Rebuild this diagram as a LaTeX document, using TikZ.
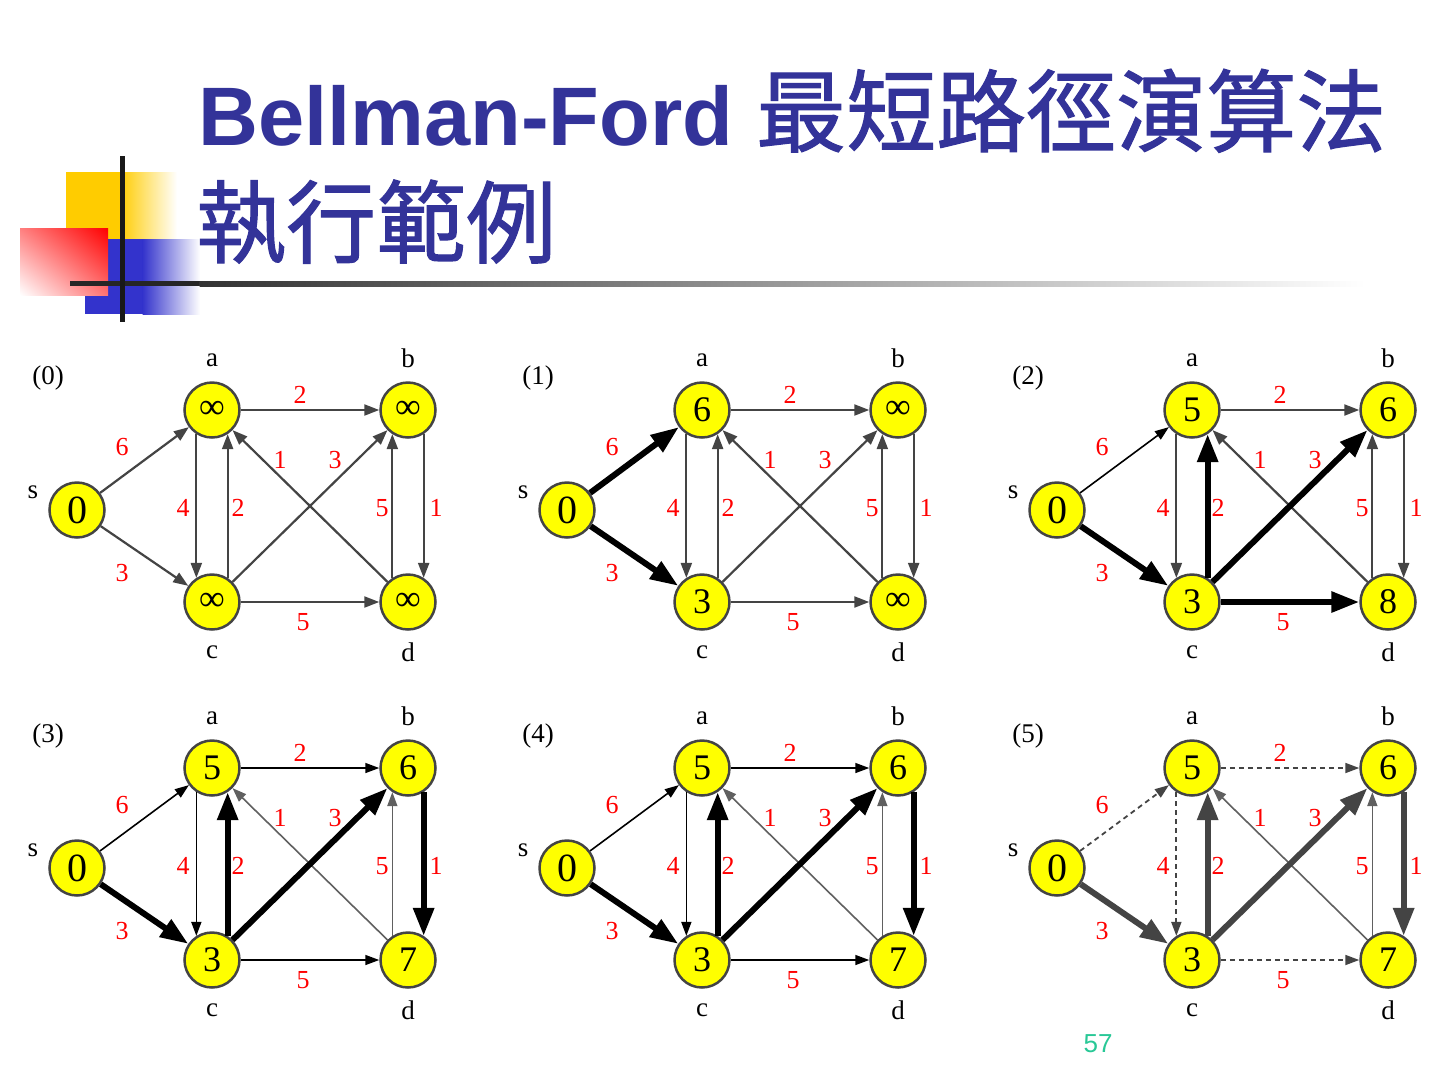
\documentclass[tikz,border=0pt]{standalone}
\usepackage{fontspec}
\setmainfont{Liberation Serif}
\newfontfamily\titlelat{Liberation Sans}
\newfontfamily\pgfont{Liberation Sans}
\newfontfamily\cjk{Noto Sans CJK TC}[FakeBold=1.2]
\usetikzlibrary{arrows.meta,shadings}
\definecolor{gr}{RGB}{68,68,68}
\definecolor{titleblue}{RGB}{51,51,153}
\definecolor{pgnum}{RGB}{40,200,150}
\definecolor{vfill}{RGB}{255,255,0}
\definecolor{logoyel}{RGB}{255,204,0}
\definecolor{logoblue}{RGB}{51,51,204}
\definecolor{logored}{RGB}{255,0,0}
\newcommand\inft{∞}
\tikzset{
 vtx/.style={circle, draw=gr, line width=2.5pt, fill=vfill, minimum size=55pt, inner sep=0pt, font=\fontsize{36}{36}\selectfont},
 svtx/.style={vtx, font=\fontsize{40}{40}\selectfont},
 lbl/.style={font=\fontsize{27}{27}\selectfont, inner sep=0pt},
 wt/.style={font=\fontsize{26}{26}\selectfont, text=red, inner sep=0pt},
 gedge/.style={draw=gr, line width=2.2pt, -{Triangle[length=15pt,width=11pt]}},
 thk/.style={draw=black, line width=6pt, -{Triangle[length=28pt,width=20pt]}},
 thn/.style={draw=black, line width=1.6pt, -{Triangle[length=14pt,width=10pt]}},
 thng/.style={draw=gr!85!white, line width=1.6pt, -{Triangle[length=14pt,width=10pt]}},
 dsh/.style={draw=gr, line width=1.8pt, dash pattern=on 5pt off 4pt, -{Triangle[length=14pt,width=10pt]}},
 thkg/.style={draw=gr, line width=6pt, -{Triangle[length=28pt,width=20pt]}},
 esa/.style={gedge}, esc/.style={gedge}, eab/.style={gedge}, eac/.style={gedge}, eca/.style={gedge},
 eda/.style={gedge}, ecb/.style={gedge}, edb/.style={gedge}, ebd/.style={gedge}, ecd/.style={gedge}
}
\newcommand\bfgraph[6]{%
 \node[lbl] (ln) at (48,378) {(#1)};
 \node[svtx] (s) at (77,510) {#2};
 \node[vtx] (a) at (212,410) {#3};
 \node[vtx] (b) at (408,410) {#4};
 \node[vtx] (c) at (212,602) {#5};
 \node[vtx] (d) at (408,602) {#6};
 \node[lbl] (ls) at (33,492) {s};
 \node[lbl] (la) at (212,360) {a};
 \node[lbl] (lb) at (408,358) {b};
 \node[lbl] (lc) at (212,652) {c};
 \node[lbl] (ld) at (408,652) {d};
 \draw[esa] (s) -- (a);
 \draw[esc] (s) -- (c);
 \draw[eab] (a) -- (b);
 \draw[eac] (a.-123) -- (c.123);
 \draw[eca] (c.57) -- (a.-57);
 \draw[eda] (d) -- (a);
 \draw[ecb] (c) -- (b);
 \draw[edb] (d.123) -- (b.-123);
 \draw[ebd] (b.-57) -- (d.57);
 \draw[ecd] (c) -- (d);
 \node[wt] (w1) at (122,447) {6};
 \node[wt] (w2) at (122,573) {3};
 \node[wt] (w3) at (300,395) {2};
 \node[wt] (w4) at (183,508) {4};
 \node[wt] (w5) at (238,508) {2};
 \node[wt] (w6) at (280,460) {1};
 \node[wt] (w7) at (335,460) {3};
 \node[wt] (w8) at (382,508) {5};
 \node[wt] (w9) at (436,508) {1};
 \node[wt] (w10) at (303,622) {5};
}
\begin{document}
\begin{tikzpicture}[x=1pt,y=-1pt]
\useasboundingbox (0,0) rectangle (1440,1080);
\fill[white] (0,0) rectangle (1440,1080);
% logo
\fill[logoyel] (66,172) rectangle (120,239);
\shade[left color=logoyel, right color=white] (119.5,172) rectangle (177,239);
\fill[logoblue] (85,239) rectangle (143,314);
\shade[left color=logoblue, right color=white] (142.5,239) rectangle (200,314);
\shade[upper left=logored!50!white, upper right=logored, lower left=white, lower right=logored!55!white] (20,228) rectangle (108,295);
\fill[black!85] (70,281) rectangle (200,286);
\shade[left color=black!80, right color=white] (199.5,281) rectangle (1365,286);
\fill[black!90] (120,156) rectangle (125,322);
% title
\node[anchor=base west, inner sep=0pt, text=titleblue] (t1) at (198,145) {{\titlelat\bfseries\fontsize{83}{90}\selectfont Bellman-Ford\ }{\cjk\mdseries\fontsize{90}{90}\selectfont 最短路徑演算法}};
\node[anchor=base west, inner sep=0pt, text=titleblue] (t2) at (196,256) {\cjk\mdseries\fontsize{90}{90}\selectfont 執行範例};
% panels
\begin{scope}[name prefix=p0-]
 \bfgraph{0}{0}{\inft}{\inft}{\inft}{\inft}
\end{scope}
\begin{scope}[shift={(490,0)}, name prefix=p1-, esa/.style={thk}, esc/.style={thk}]
 \bfgraph{1}{0}{6}{\inft}{3}{\inft}
\end{scope}
\begin{scope}[shift={(980,0)}, name prefix=p2-, esa/.style={thn}, esc/.style={thk}, eca/.style={thk}, ecb/.style={thk}, ecd/.style={thk}]
 \bfgraph{2}{0}{5}{6}{3}{8}
\end{scope}
\begin{scope}[shift={(0,358)}, name prefix=p3-, esa/.style={thn}, eab/.style={thn}, eac/.style={thn}, ecd/.style={thn}, esc/.style={thk}, eca/.style={thk}, ecb/.style={thk}, ebd/.style={thk}, eda/.style={thng}, edb/.style={thng}]
 \bfgraph{3}{0}{5}{6}{3}{7}
\end{scope}
\begin{scope}[shift={(490,358)}, name prefix=p4-, esa/.style={thn}, eab/.style={thn}, eac/.style={thn}, ecd/.style={thn}, esc/.style={thk}, eca/.style={thk}, ecb/.style={thk}, ebd/.style={thk}, eda/.style={thng}, edb/.style={thng}]
 \bfgraph{4}{0}{5}{6}{3}{7}
\end{scope}
\begin{scope}[shift={(980,358)}, name prefix=p5-, esa/.style={dsh}, eab/.style={dsh}, eac/.style={dsh}, ecd/.style={dsh}, esc/.style={thkg}, eca/.style={thkg}, ecb/.style={thkg}, ebd/.style={thkg}, eda/.style={thng}, edb/.style={thng}]
 \bfgraph{5}{0}{5}{6}{3}{7}
\end{scope}
\node[text=pgnum, inner sep=0pt, font=\pgfont\fontsize{26}{26}\selectfont] (pg) at (1098,1044) {57};
\end{tikzpicture}
\end{document}
